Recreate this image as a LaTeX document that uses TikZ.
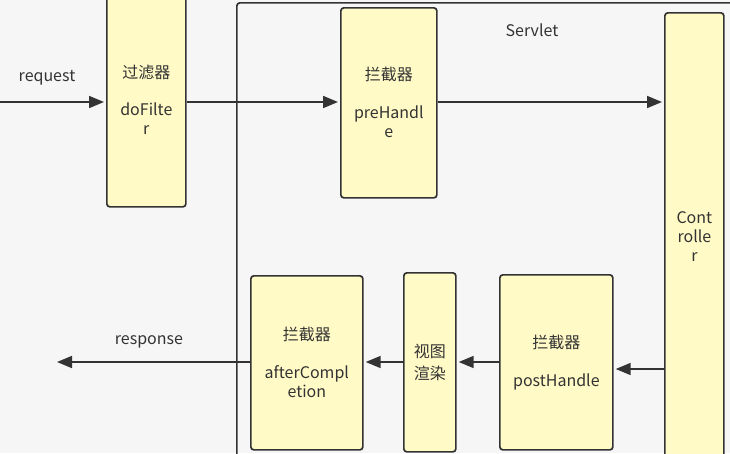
\documentclass[tikz,border=0pt]{standalone}
\usepackage{fontspec}
\setmainfont{Noto Sans CJK SC}
\usetikzlibrary{positioning,arrows.meta}
\definecolor{boxfill}{RGB}{255,250,198}
\definecolor{ink}{RGB}{51,51,51}
\definecolor{paper}{RGB}{246,246,246}

\begin{document}
\begin{tikzpicture}[
    x=1pt, y=-1pt,
    font=\fontsize{16}{19}\selectfont,
    text=ink,
    box/.style={
        draw=ink,
        fill=boxfill,
        line width=1.7pt,
        rounded corners=3pt,
        inner sep=0pt,
        anchor=north west,
        align=center
    },
    frame/.style={draw=ink, line width=1.7pt, rounded corners=3pt, inner sep=0pt, anchor=north west},
    arrow/.style={-{Triangle[length=15pt,width=12pt]}, draw=ink, line width=1.7pt, shorten >=2pt},
    lbl/.style={font=\fontsize{16}{19}\selectfont, text=ink}
]

\useasboundingbox (0,0) rectangle (730,453);
\fill[paper] (0,0) rectangle (730,453);
\clip (0,0) rectangle (730,453);

% ============================================================
% SERVLET
% ============================================================
\node[frame, minimum width=540pt, minimum height=520pt] (servlet) at (236,2) {};
\node[lbl] (servletlbl) at (532,30) {Servlet};

% ============================================================
% REQUEST
% ============================================================
\node[box, minimum width=79pt, minimum height=214pt] (filter) at (106,-8)
    {过滤器\\[18pt]doFilte\\r};
\node[box, minimum width=96pt, minimum height=190pt] (pre) at (340,7)
    {拦截器\\[19pt]preHandl\\e};
\node[box, minimum width=59pt, minimum height=448pt] (ctrl) at (664,12)
    {Cont\\rolle\\r};

\coordinate (in) at (0,102);
\node[lbl] (request) at (47,78) {request};

\draw[arrow] (in) -- (filter.west |- in);
\draw[arrow] (filter.east |- in) -- (pre.west |- in);
\draw[arrow] (pre.east |- in) -- (ctrl.west |- in);

% ============================================================
% RESPONSE
% ============================================================
\node[box, minimum width=113pt, minimum height=175pt] (post) at (499,274)
    {拦截器\\[19pt]postHandle};
\node[box, minimum width=52pt, minimum height=179pt, font=\fontsize{16}{22}\selectfont] (view) at (403,272)
    {视图\\渲染};
\node[box, minimum width=112pt, minimum height=174pt] (after) at (250,275)
    {拦截器\\[19pt]afterCompl\\etion};

\coordinate (back) at (0,369);
\coordinate (ret) at (0,362);
\coordinate (out) at (55,362);
\node[lbl] (response) at (149,342) {response};

\draw[arrow] (ctrl.west |- back) -- (post.east |- back);
\draw[arrow] (post.west |- ret) -- (view.east |- ret);
\draw[arrow] (view.west |- ret) -- (after.east |- ret);
\draw[arrow] (after.west |- ret) -- (out);

\end{tikzpicture}
\end{document}
